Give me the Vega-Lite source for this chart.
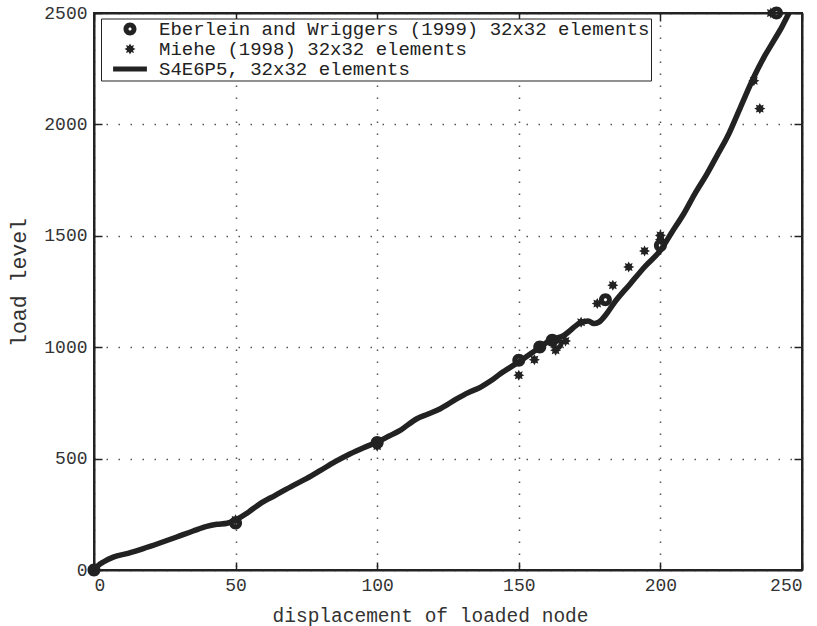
{
  "$schema": "https://vega.github.io/schema/vega-lite/v6.json",
  "width": 708,
  "height": 557,
  "autosize": {"type": "none"},
  "padding": {"left": 94, "top": 13, "right": 15, "bottom": 56},
  "background": "white",
  "config": {
    "view": {"stroke": "#222", "strokeWidth": 2},
    "axis": {"labelFont": "Liberation Mono", "titleFont": "Liberation Mono", "titleFontWeight": "normal"}
  },
  "data": {
    "values": [
      {"series": "S4E6P5, 32x32 elements", "x": 0, "y": 0},
      {"series": "S4E6P5, 32x32 elements", "x": 1.5, "y": 20},
      {"series": "S4E6P5, 32x32 elements", "x": 3.3, "y": 36},
      {"series": "S4E6P5, 32x32 elements", "x": 6.8, "y": 58},
      {"series": "S4E6P5, 32x32 elements", "x": 12, "y": 75},
      {"series": "S4E6P5, 32x32 elements", "x": 17.4, "y": 96},
      {"series": "S4E6P5, 32x32 elements", "x": 23, "y": 120},
      {"series": "S4E6P5, 32x32 elements", "x": 29.2, "y": 148},
      {"series": "S4E6P5, 32x32 elements", "x": 35, "y": 175},
      {"series": "S4E6P5, 32x32 elements", "x": 39.8, "y": 196},
      {"series": "S4E6P5, 32x32 elements", "x": 43.4, "y": 205},
      {"series": "S4E6P5, 32x32 elements", "x": 47, "y": 210},
      {"series": "S4E6P5, 32x32 elements", "x": 49.8, "y": 223},
      {"series": "S4E6P5, 32x32 elements", "x": 54, "y": 255},
      {"series": "S4E6P5, 32x32 elements", "x": 58.7, "y": 298},
      {"series": "S4E6P5, 32x32 elements", "x": 64, "y": 335},
      {"series": "S4E6P5, 32x32 elements", "x": 70.4, "y": 380},
      {"series": "S4E6P5, 32x32 elements", "x": 75, "y": 410},
      {"series": "S4E6P5, 32x32 elements", "x": 80, "y": 447},
      {"series": "S4E6P5, 32x32 elements", "x": 85, "y": 485},
      {"series": "S4E6P5, 32x32 elements", "x": 90.5, "y": 522},
      {"series": "S4E6P5, 32x32 elements", "x": 95, "y": 548},
      {"series": "S4E6P5, 32x32 elements", "x": 100.1, "y": 575},
      {"series": "S4E6P5, 32x32 elements", "x": 104, "y": 600},
      {"series": "S4E6P5, 32x32 elements", "x": 108.1, "y": 627},
      {"series": "S4E6P5, 32x32 elements", "x": 114, "y": 679},
      {"series": "S4E6P5, 32x32 elements", "x": 118, "y": 700},
      {"series": "S4E6P5, 32x32 elements", "x": 122.3, "y": 724},
      {"series": "S4E6P5, 32x32 elements", "x": 128.2, "y": 769},
      {"series": "S4E6P5, 32x32 elements", "x": 132, "y": 795},
      {"series": "S4E6P5, 32x32 elements", "x": 136.4, "y": 820},
      {"series": "S4E6P5, 32x32 elements", "x": 140, "y": 848},
      {"series": "S4E6P5, 32x32 elements", "x": 143.5, "y": 881},
      {"series": "S4E6P5, 32x32 elements", "x": 150, "y": 934},
      {"series": "S4E6P5, 32x32 elements", "x": 157.6, "y": 1001},
      {"series": "S4E6P5, 32x32 elements", "x": 161, "y": 1030},
      {"series": "S4E6P5, 32x32 elements", "x": 165.9, "y": 1053},
      {"series": "S4E6P5, 32x32 elements", "x": 171.8, "y": 1110},
      {"series": "S4E6P5, 32x32 elements", "x": 174.5, "y": 1118},
      {"series": "S4E6P5, 32x32 elements", "x": 176.5, "y": 1106},
      {"series": "S4E6P5, 32x32 elements", "x": 178.2, "y": 1112},
      {"series": "S4E6P5, 32x32 elements", "x": 181, "y": 1150},
      {"series": "S4E6P5, 32x32 elements", "x": 183.5, "y": 1196},
      {"series": "S4E6P5, 32x32 elements", "x": 189.4, "y": 1285},
      {"series": "S4E6P5, 32x32 elements", "x": 194.4, "y": 1360},
      {"series": "S4E6P5, 32x32 elements", "x": 200, "y": 1435},
      {"series": "S4E6P5, 32x32 elements", "x": 204, "y": 1515},
      {"series": "S4E6P5, 32x32 elements", "x": 208.3, "y": 1600},
      {"series": "S4E6P5, 32x32 elements", "x": 212, "y": 1685},
      {"series": "S4E6P5, 32x32 elements", "x": 216.5, "y": 1779},
      {"series": "S4E6P5, 32x32 elements", "x": 220, "y": 1860},
      {"series": "S4E6P5, 32x32 elements", "x": 223.6, "y": 1943},
      {"series": "S4E6P5, 32x32 elements", "x": 228.3, "y": 2078},
      {"series": "S4E6P5, 32x32 elements", "x": 233, "y": 2213},
      {"series": "S4E6P5, 32x32 elements", "x": 236.5, "y": 2300},
      {"series": "S4E6P5, 32x32 elements", "x": 240.1, "y": 2377},
      {"series": "S4E6P5, 32x32 elements", "x": 243, "y": 2440},
      {"series": "S4E6P5, 32x32 elements", "x": 245.4, "y": 2500},
      {"series": "Miehe (1998) 32x32 elements", "x": 0, "y": 0},
      {"series": "Miehe (1998) 32x32 elements", "x": 50, "y": 225},
      {"series": "Miehe (1998) 32x32 elements", "x": 100, "y": 556},
      {"series": "Miehe (1998) 32x32 elements", "x": 150, "y": 874},
      {"series": "Miehe (1998) 32x32 elements", "x": 155.5, "y": 944},
      {"series": "Miehe (1998) 32x32 elements", "x": 163, "y": 986},
      {"series": "Miehe (1998) 32x32 elements", "x": 166.5, "y": 1028},
      {"series": "Miehe (1998) 32x32 elements", "x": 172, "y": 1112},
      {"series": "Miehe (1998) 32x32 elements", "x": 177.7, "y": 1196},
      {"series": "Miehe (1998) 32x32 elements", "x": 183.2, "y": 1278},
      {"series": "Miehe (1998) 32x32 elements", "x": 188.8, "y": 1360},
      {"series": "Miehe (1998) 32x32 elements", "x": 194.4, "y": 1432},
      {"series": "Miehe (1998) 32x32 elements", "x": 200, "y": 1482},
      {"series": "Miehe (1998) 32x32 elements", "x": 200, "y": 1502},
      {"series": "Miehe (1998) 32x32 elements", "x": 233, "y": 2196},
      {"series": "Miehe (1998) 32x32 elements", "x": 235.1, "y": 2071},
      {"series": "Miehe (1998) 32x32 elements", "x": 239, "y": 2500},
      {"series": "Eberlein and Wriggers (1999) 32x32 elements", "x": 0, "y": 0},
      {"series": "Eberlein and Wriggers (1999) 32x32 elements", "x": 50, "y": 211},
      {"series": "Eberlein and Wriggers (1999) 32x32 elements", "x": 100, "y": 572},
      {"series": "Eberlein and Wriggers (1999) 32x32 elements", "x": 150, "y": 941},
      {"series": "Eberlein and Wriggers (1999) 32x32 elements", "x": 157.4, "y": 1001},
      {"series": "Eberlein and Wriggers (1999) 32x32 elements", "x": 161.8, "y": 1031},
      {"series": "Eberlein and Wriggers (1999) 32x32 elements", "x": 163.5, "y": 1015},
      {"series": "Eberlein and Wriggers (1999) 32x32 elements", "x": 180.6, "y": 1213},
      {"series": "Eberlein and Wriggers (1999) 32x32 elements", "x": 200, "y": 1457},
      {"series": "Eberlein and Wriggers (1999) 32x32 elements", "x": 241, "y": 2500}
    ]
  },
  "layer": [
    {
      "transform": [{"filter": "datum.series === 'S4E6P5, 32x32 elements'"}],
      "mark": {"type": "line", "color": "#222", "strokeWidth": 5.5, "interpolate": "monotone", "clip": false},
      "encoding": {
        "x": {
          "field": "x", "type": "quantitative",
          "scale": {"domain": [0, 250], "nice": false, "zero": false},
          "axis": {
            "orient": "bottom", "values": [0, 50, 100, 150, 200, 250], "format": "d",
            "grid": true, "gridDash": [1.5, 10.5], "gridColor": "#555", "gridWidth": 1.5,
            "tickSize": -8, "tickColor": "#222", "tickWidth": 1.5,
            "domainColor": "#222", "domainWidth": 2,
            "labelFontSize": 18, "labelColor": "#333", "labelPadding": 14,
            "title": "displacement of loaded node", "titleFontSize": 19.5, "titleColor": "#333",
            "titleX": 336, "titleY": 51, "titleAlign": "center", "titleBaseline": "alphabetic"
          }
        },
        "y": {
          "field": "y", "type": "quantitative",
          "scale": {"domain": [0, 2500], "nice": false, "zero": false},
          "axis": {
            "orient": "left", "values": [0, 500, 1000, 1500, 2000, 2500], "format": "d",
            "grid": true, "gridDash": [1.5, 10.5], "gridColor": "#555", "gridWidth": 1.5,
            "tickSize": -8, "tickColor": "#222", "tickWidth": 1.5,
            "domainColor": "#222", "domainWidth": 2,
            "labelFontSize": 18, "labelColor": "#333", "labelPadding": 15,
            "title": "load level", "titleFontSize": 21.5, "titleColor": "#333",
            "titleX": -69, "titleY": 269, "titleAngle": -90, "titleAlign": "center", "titleBaseline": "alphabetic"
          }
        }
      }
    },
    {
      "transform": [{"filter": "datum.series === 'Miehe (1998) 32x32 elements'"}],
      "mark": {"type": "point", "filled": true, "color": "#222", "opacity": 1, "size": 169, "clip": false},
      "encoding": {
        "x": {
          "field": "x", "type": "quantitative",
          "axis": {
            "orient": "top", "values": [0, 50, 100, 150, 200, 250], "labels": false, "grid": false, "title": null,
            "tickSize": -8, "tickColor": "#222", "tickWidth": 1.5, "domainColor": "#222", "domainWidth": 2
          }
        },
        "y": {
          "field": "y", "type": "quantitative",
          "axis": {
            "orient": "right", "values": [0, 500, 1000, 1500, 2000, 2500], "labels": false, "grid": false, "title": null,
            "tickSize": -8, "tickColor": "#222", "tickWidth": 1.5, "domainColor": "#222", "domainWidth": 2
          }
        },
        "shape": {
          "field": "series", "type": "nominal",
          "scale": {
            "domain": ["Eberlein and Wriggers (1999) 32x32 elements", "Miehe (1998) 32x32 elements", "S4E6P5, 32x32 elements"],
            "range": [
              "M-1,0A1,1,0,1,1,1,0A1,1,0,1,1,-1,0ZM-0.24,0A0.24,0.24,0,1,0,0.24,0A0.24,0.24,0,1,0,-0.24,0Z",
              "M0.85,0L0.47,0.2L0.6,0.6L0.2,0.47L0,0.85L-0.2,0.47L-0.6,0.6L-0.47,0.2L-0.85,0L-0.47,-0.2L-0.6,-0.6L-0.2,-0.47L0,-0.85L0.2,-0.47L0.6,-0.6L0.47,-0.2Z",
              "M-2.6,-0.38L2.6,-0.38L2.6,0.38L-2.6,0.38Z"
            ]
          },
          "legend": {
            "orient": "none", "legendX": 7, "legendY": 5.5, "title": null,
            "strokeColor": "#222", "fillColor": "white",
            "padding": 1, "rowPadding": 0, "symbolOffset": 18.5, "labelOffset": 19.5,
            "symbolSize": 169, "symbolFillColor": "#222", "symbolStrokeWidth": 0,
            "labelFont": "Liberation Mono", "labelFontSize": 19, "labelColor": "#222", "labelLimit": 0
          }
        }
      }
    },
    {
      "transform": [{"filter": "datum.series === 'Eberlein and Wriggers (1999) 32x32 elements'"}],
      "mark": {"type": "point", "filled": true, "color": "#222", "opacity": 1, "size": 169, "clip": false},
      "encoding": {
        "x": {"field": "x", "type": "quantitative", "axis": null},
        "y": {"field": "y", "type": "quantitative", "axis": null},
        "shape": {"field": "series", "type": "nominal"}
      }
    }
  ],
  "resolve": {"axis": {"x": "independent", "y": "independent"}}
}
